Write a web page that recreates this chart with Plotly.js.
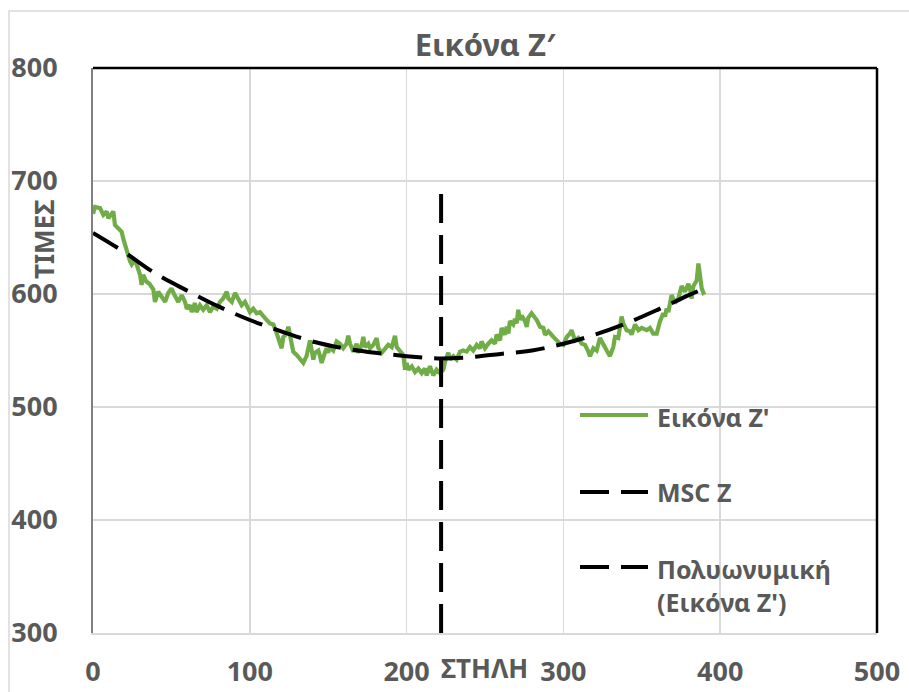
<!DOCTYPE html>
<html>
<head>
<meta charset="utf-8">
<script src="https://cdn.plot.ly/plotly-3.0.1.min.js"></script>
<style>html,body{margin:0;padding:0;background:#fff;}#chart{width:909px;height:692px;}</style>
</head>
<body>
<div id="chart"></div>
<script>
// Εικόνα Z' (green measured series)
const imgX = [0,1.3,4.5,6.6,8.7,9.8,11.9,13,14,16,18.3,19.3,20.4,21.5,22.5,23.6,24.7,26.8,27.9,30,31,32,34,36,38.5,39.5,41.6,43.8,46,48,50,52,54.4,56.6,58.7,59.8,61.9,63,65,66,68.2,70.3,72.5,74.6,76.7,78.9,81,83,85.3,86.3,88.5,90.6,92.7,94.8,96.9,99,
100.1,102.2,104.4,106.5,108.6,110.8,112.9,115,117.2,119.3,120.3,121.4,123.5,124.6,125.6,126.7,127.7,129.9,132,134.1,136.2,137.3,138.4,139.5,140.5,141.6,143.7,144.8,145.8,147.9,149,150,151.1,153.2,155.4,157.5,159.6,161.7,162.8,163.9,166,168.1,169.2,171.3,172.4,173.5,175.6,176.7,178.8,180.9,182,184.1,186.2,188.3,190.5,192.6,193.7,195.8,197.9,199,
200,201.1,203.3,205.4,207.5,209.6,211.7,212.8,214.9,217,219.1,221.3,223.4,224.5,226.6,227.7,229.8,231.9,234.1,236.2,238.3,240.4,242.5,244.7,246.8,247.8,250,252.1,254.2,256.4,257.4,259.6,260.6,262.8,263.8,264.9,265.9,268,269.1,270.2,271.2,272.3,273.4,275.5,276.6,277.6,279.7,280.8,283,285.1,287.2,288.3,290.4,
293.6,295.7,297.8,300,302.1,304.2,305.2,307.4,309.5,311.7,313.8,315.9,317,319.1,321.2,323.3,325.4,327.6,329.7,331.8,332.9,335,336.1,337.1,338.2,340.3,342.5,343.5,345.7,347.8,349.9,353.1,355.2,357.3,359.5,360.5,361.6,363.7,364.8,365.8,366.9,369,371.2,373.3,375.4,377.5,379.7,380.8,381.8,382.9,385,386.1,387.2,388.2,389.3,390.4];
const imgY = [671,677,676,670,673,667,671,673,661,658,655,649,643,637,634,629,626,630,626,617,608,617,611,609,604,593,602,598,593,601,605,599,593,599,593,587,590,584,592,584,590,586,590,584,589,587,593,596,602,596,593,601,595,590,593,586,
584,587,583,584,580,577,574,573,565,556,552,562,565,571,562,553,549,546,542,539,545,552,559,550,542,548,550,545,539,548,552,548,553,550,558,556,552,556,563,556,549,556,548,555,562,553,556,552,555,561,552,548,552,555,553,563,553,549,546,533,
539,533,536,531,534,530,534,528,536,528,533,530,533,540,548,542,545,542,549,550,549,553,550,555,552,558,552,556,559,556,564,559,570,564,571,565,576,573,578,574,586,577,581,576,571,579,583,581,577,571,570,564,567,
562,559,556,555,562,565,568,559,561,556,555,549,545,552,550,561,555,550,545,553,562,561,571,580,574,568,567,564,573,568,570,568,570,565,565,571,576,583,580,587,584,599,592,596,607,602,609,604,596,607,612,627,615,605,601,602];

// MSC Z (vertical marker)
const mscX = [222, 222];
const mscY = [300, 692];

// Πολυωνυμική (Εικόνα Z') trendline
const trendX = [0,20,40,60,80,100,120,140,160,180,200,220,240,260,280,300,320,340,360,380,390];
const trendY = [654,637,618,603,589,577,567,558,552,548,545,543,544,547,550,556,564,574,586,599,605];

const xTicks = [0,100,200,300,400,500];
const yTicks = [300,400,500,600,700,800];

const legendNames = ["Εικόνα Z'", "MSC Z", "Πολυωνυμική<br>(Εικόνα Z')"];
const titleText = "Εικόνα Z′";
const xTitle = "ΣΤΗΛΗ";
const yTitle = "ΤΙΜΕΣ";

const GREEN = '#70ad47';
const TXT = '#595959';
const FONT = '"Noto Sans", "Open Sans", sans-serif';
const DASH = '29px,12px';

const traces = [
  {x: imgX, y: imgY, type: 'scatter', mode: 'lines', name: legendNames[0],
   line: {color: GREEN, width: 4.2}},
  {x: trendX, y: trendY, type: 'scatter', mode: 'lines', name: legendNames[2],
   line: {color: '#000', width: 4, dash: DASH, shape: 'spline'}},
  {x: mscX, y: mscY, type: 'scatter', mode: 'lines', name: legendNames[1],
   line: {color: '#000', width: 4, dash: DASH}}
];

// paper coordinate helpers for the plot area (l=93, r=877, t=68, b=633)
const px = v => (v - 93) / 784;
const py = v => (633 - v) / 565;

const layout = {
  width: 909, height: 692,
  margin: {l: 93, r: 32, t: 68, b: 59},
  paper_bgcolor: '#fff', plot_bgcolor: '#fff',
  showlegend: false,
  font: {family: FONT, color: TXT},
  title: {text: titleText, x: 0.5, xref: 'paper', y: 1 - 45/692, yanchor: 'middle',
          font: {family: FONT, size: 31, color: TXT, weight: 'bold'}},
  xaxis: {range: [0, 500], tickvals: xTicks, ticktext: xTicks.map(String),
          showgrid: true, gridcolor: '#d9d9d9', gridwidth: 1.5, zeroline: false,
          showline: true, linecolor: '#d9d9d9', linewidth: 2,
          ticks: '', ticklabelstandoff: 14,
          tickfont: {family: FONT, size: 27, color: TXT, weight: 'bold'}},
  yaxis: {range: [300, 800], tickvals: yTicks, ticktext: yTicks.map(String),
          showgrid: true, gridcolor: '#d9d9d9', gridwidth: 1.5, zeroline: false,
          showline: true, linecolor: '#808080', linewidth: 2,
          ticks: '', ticklabelstandoff: 28,
          tickfont: {family: FONT, size: 27, color: TXT, weight: 'bold'}},
  shapes: [
    {type: 'line', xref: 'paper', yref: 'paper', x0: 0, x1: 1, y0: 1, y1: 1, line: {color: '#000', width: 2.5}},
    {type: 'line', xref: 'paper', yref: 'paper', x0: 1, x1: 1, y0: 0, y1: 1, line: {color: '#000', width: 2.5}},
    {type: 'path', xref: 'paper', yref: 'paper',
     path: `M ${px(9)} ${py(700)} L ${px(9)} ${py(11)} L ${px(920)} ${py(11)}`,
     line: {color: '#d9d9d9', width: 1.5}},
    {type: 'line', xref: 'paper', yref: 'paper', x0: px(580), x1: px(648), y0: py(415), y1: py(415), line: {color: GREEN, width: 4}},
    {type: 'line', xref: 'paper', yref: 'paper', x0: px(580), x1: px(648), y0: py(492), y1: py(492), line: {color: '#000', width: 4, dash: DASH}},
    {type: 'line', xref: 'paper', yref: 'paper', x0: px(580), x1: px(648), y0: py(567), y1: py(567), line: {color: '#000', width: 4, dash: DASH}}
  ],
  annotations: [
    {text: yTitle, xref: 'paper', yref: 'paper', x: px(44), y: py(240), textangle: -90,
     showarrow: false, xanchor: 'center', yanchor: 'middle',
     font: {family: FONT, size: 26, color: TXT, weight: 'bold'}},
    {text: xTitle, xref: 'paper', yref: 'paper', x: px(484), y: py(668),
     showarrow: false, xanchor: 'center', yanchor: 'middle',
     font: {family: FONT, size: 26, color: TXT, weight: 'bold'}},
    {text: legendNames[0], xref: 'paper', yref: 'paper', x: px(655), y: py(417),
     showarrow: false, xanchor: 'left', yanchor: 'middle',
     font: {family: FONT, size: 25, color: TXT, weight: 'bold'}},
    {text: legendNames[1], xref: 'paper', yref: 'paper', x: px(655), y: py(492),
     showarrow: false, xanchor: 'left', yanchor: 'middle',
     font: {family: FONT, size: 25, color: TXT, weight: 'bold'}},
    {text: legendNames[2], xref: 'paper', yref: 'paper', x: px(655), y: py(585),
     showarrow: false, xanchor: 'left', yanchor: 'middle', align: 'left',
     font: {family: FONT, size: 25, color: TXT, weight: 'bold'}}
  ]
};

Plotly.newPlot('chart', traces, layout, {displayModeBar: false, staticPlot: true});
</script>
</body>
</html>
